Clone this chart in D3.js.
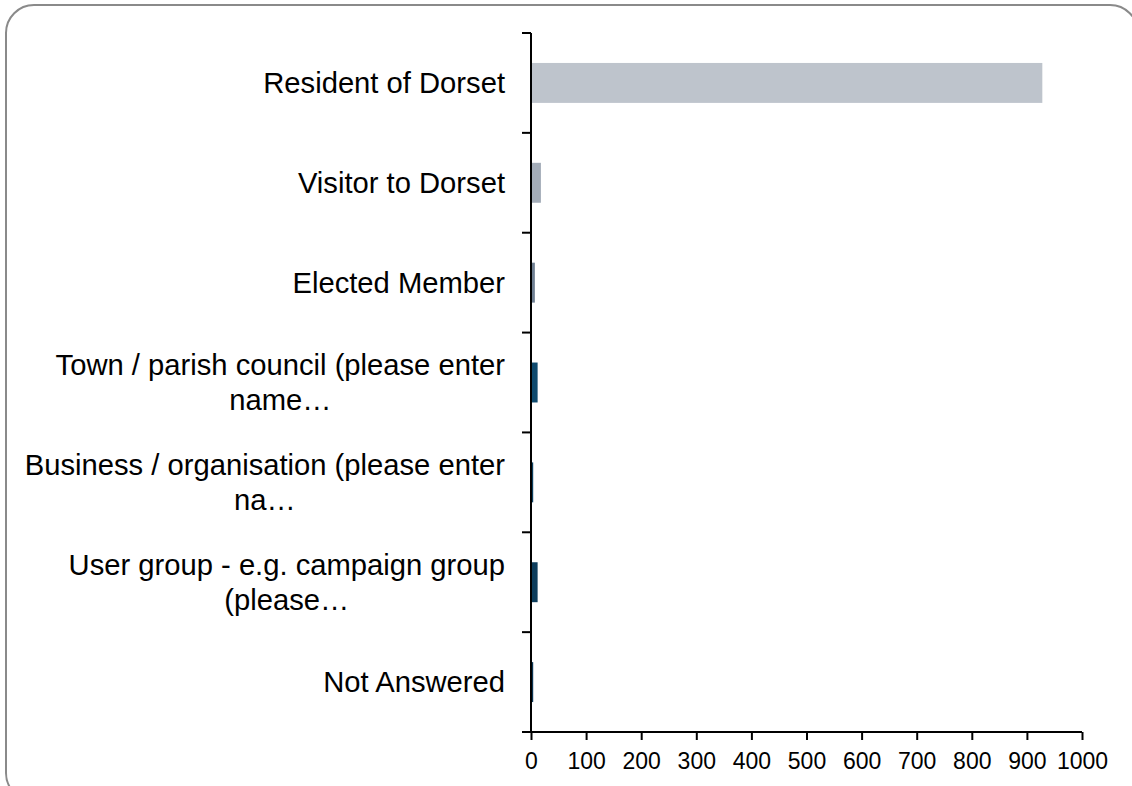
<!DOCTYPE html>
<html><head><meta charset="utf-8">
<script src="https://cdn.jsdelivr.net/npm/d3@7"></script>
<style>
html,body{margin:0;padding:0;background:#fff;}
svg{display:block;font-family:"Liberation Sans",Arial,sans-serif;}
</style></head>
<body>
<svg id="chart" width="1132" height="786"></svg>
<script>
const categories = [
  ["Resident of Dorset"],
  ["Visitor to Dorset"],
  ["Elected Member"],
  ["Town / parish council (please enter", "name\u2026"],
  ["Business / organisation (please enter", "na\u2026"],
  ["User group - e.g. campaign group", "(please\u2026"],
  ["Not Answered"]
];
const values = [928, 18, 7, 12, 4, 12, 4];
const colors = ["#bec4cc", "#a3acb8", "#6f7f92", "#0f4a6e", "#0c3f60", "#0d3d5c", "#0b3553"];
const xTicks = [0,100,200,300,400,500,600,700,800,900,1000];

const svg = d3.select("#chart");
svg.append("rect").attr("x",6).attr("y",5).attr("width",1132).attr("height",796)
  .attr("rx",28).attr("ry",28).attr("fill","#fff").attr("stroke","#8a8a8a").attr("stroke-width",2);

const keys = categories.map((c,i)=>i);
const x = d3.scaleLinear().domain([0,1000]).range([531,1082]);
const y = d3.scaleBand().domain(keys).range([33,732]).paddingInner(0.6).paddingOuter(0.3);

// bars
svg.append("g").selectAll("rect").data(keys).join("rect")
  .attr("x", x(0))
  .attr("y", d=>y(d))
  .attr("width", d=>x(values[d])-x(0))
  .attr("height", y.bandwidth())
  .attr("fill", d=>colors[d]);

// x axis
const xAxis = svg.append("g").attr("transform","translate(0,732)")
  .call(d3.axisBottom(x).tickValues(xTicks).tickSize(8).tickSizeOuter(0).tickFormat(d3.format("d")));
xAxis.select(".domain").remove();
xAxis.append("line").attr("x1",522).attr("x2",1082).attr("y1",0).attr("y2",0).attr("stroke","#000").attr("stroke-width",2);
xAxis.selectAll(".tick line").attr("stroke","#000").attr("stroke-width",2);
xAxis.selectAll(".tick text").attr("fill","#000").attr("font-size",23).attr("y",21).attr("dy","0.71em")
  .attr("font-family","'Liberation Sans',Arial,sans-serif");

// y axis line and boundary ticks
const step = y.step();
const yTop = y.range()[0];
const gy = svg.append("g");
gy.append("line").attr("x1",x(0)).attr("x2",x(0)).attr("y1",yTop).attr("y2",y.range()[1]).attr("stroke","#000").attr("stroke-width",2);
gy.selectAll("line.tk").data(d3.range(categories.length+1)).join("line").attr("class","tk")
  .attr("x1",x(0)-9).attr("x2",x(0)).attr("y1",d=>yTop+d*step).attr("y2",d=>yTop+d*step)
  .attr("stroke","#000").attr("stroke-width",2);

// labels
const fs = 29.2, lh = 35;
keys.forEach(i=>{
  const lines = categories[i];
  const cy = y(i)+y.bandwidth()/2;
  if(lines.length===1){
    svg.append("text").attr("x",505).attr("y",cy).attr("dy","0.35em")
      .attr("text-anchor","end").attr("font-size",fs).attr("fill","#000").text(lines[0]);
  } else {
    const t = svg.append("text").attr("font-size",fs).attr("fill","#000").attr("text-anchor","middle");
    const tmp = svg.append("text").attr("font-size",fs).text(lines[0]);
    const w = tmp.node().getComputedTextLength(); tmp.remove();
    const cx = 505 - w/2;
    lines.forEach((ln,j)=>{
      t.append("tspan").attr("x",cx).attr("y",cy + (j-(lines.length-1)/2)*lh).attr("dy","0.35em").text(ln);
    });
  }
});
</script>
</body></html>
